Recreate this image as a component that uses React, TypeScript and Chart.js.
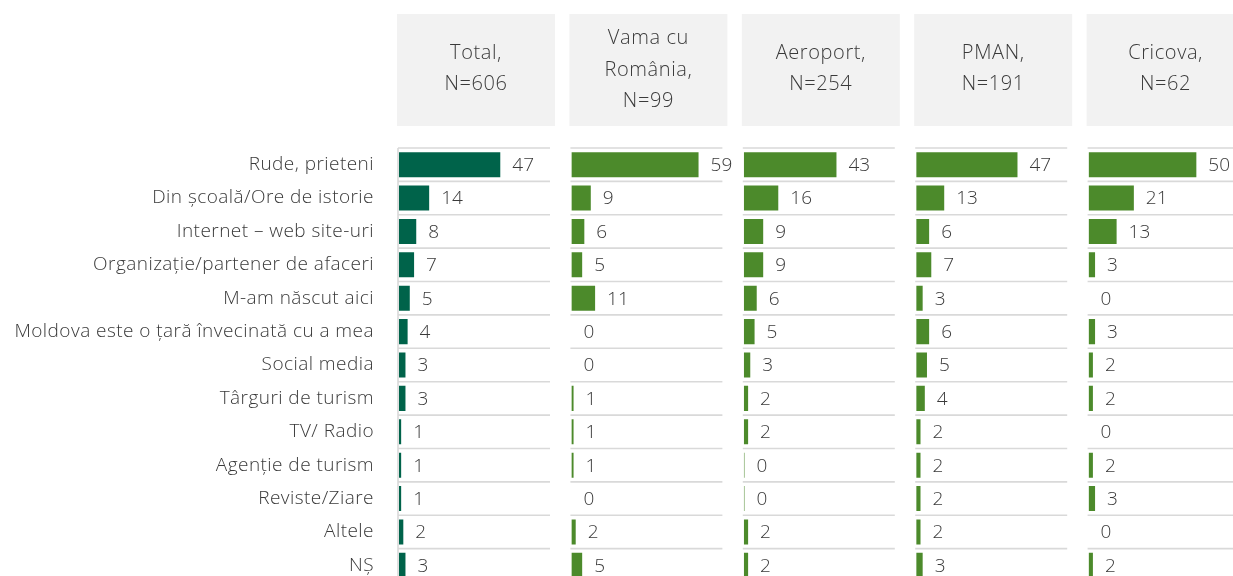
import React, { useEffect, useRef } from "react";
import { Chart, registerables } from "chart.js";

Chart.register(...registerables);

const categories = [
  "Rude, prieteni",
  "Din școală/Ore de istorie",
  "Internet – web site-uri",
  "Organizație/partener de afaceri",
  "M-am născut aici",
  "Moldova este o țară învecinată cu a mea",
  "Social media",
  "Târguri de turism",
  "TV/ Radio",
  "Agenție de turism",
  "Reviste/Ziare",
  "Altele",
  "NȘ",
];

const panelTitles = [
  ["Total,", "N=606"],
  ["Vama cu", "România,", "N=99"],
  ["Aeroport,", "N=254"],
  ["PMAN,", "N=191"],
  ["Cricova,", "N=62"],
];

const totalValues = [47, 14, 8, 7, 5, 4, 3, 3, 1, 1, 1, 2, 3];
const vamaValues = [59, 9, 6, 5, 11, 0, 0, 1, 1, 1, 0, 2, 5];
const aeroportValues = [43, 16, 9, 9, 6, 5, 3, 2, 2, 0.3, 0.3, 2, 2];
const pmanValues = [47, 13, 6, 7, 3, 6, 5, 4, 2, 2, 2, 2, 3];
const cricovaValues = [50, 21, 13, 3, 0, 3, 2, 2, 0, 2, 3, 0, 2];

const seriesValues = [totalValues, vamaValues, aeroportValues, pmanValues, cricovaValues];
const seriesColors = ["#00634A", "#4C8A2B", "#4C8A2B", "#4C8A2B", "#4C8A2B"];

const FONT = "'Open Sans', Lato, sans-serif";
const TEXT = "#3a3a3a";

const panelPlugin = {
  id: "panelDecor",
  beforeDraw(chart: any) {
    chart.ctx.letterSpacing = "0.45px";
  },
  beforeDatasetsDraw(chart: any) {
    const ctx = chart.ctx;
    const area = chart.chartArea;
    const yScale = chart.scales.y;
    const n = categories.length;
    const rowH = (yScale.bottom - yScale.top) / n;
    ctx.save();
    panelTitles.forEach((lines, i) => {
      const sc = chart.scales["x" + i];
      const left = sc.left;
      ctx.fillStyle = "#F2F2F2";
      ctx.fillRect(left - 2, 14, 158, 112);
      ctx.fillStyle = TEXT;
      ctx.font = `300 20px ${FONT}`;
      ctx.letterSpacing = "0.6px";
      ctx.textAlign = "center";
      ctx.textBaseline = "middle";
      const lh = 31.5;
      const cy = lines.length > 2 ? 70 : 69;
      lines.forEach((t, j) => {
        ctx.fillText(t, left + 77, cy + (j - (lines.length - 1) / 2) * lh);
      });
      ctx.strokeStyle = "#D9D9D9";
      ctx.lineWidth = 1.6;
      for (let k = 0; k <= n; k++) {
        const y = yScale.top + k * rowH;
        ctx.beginPath();
        ctx.moveTo(left - 1, y);
        ctx.lineTo(left + 151, y);
        ctx.stroke();
      }
      if (i === 0) {
        ctx.beginPath();
        ctx.moveTo(left - 1, area.top);
        ctx.lineTo(left - 1, area.bottom);
        ctx.stroke();
      }
    });
    ctx.restore();
  },
  afterDatasetsDraw(chart: any) {
    const ctx = chart.ctx;
    ctx.save();
    ctx.fillStyle = TEXT;
    ctx.font = `300 19px ${FONT}`;
    ctx.letterSpacing = "0px";
    ctx.textAlign = "left";
    ctx.textBaseline = "middle";
    chart.data.datasets.forEach((ds: any, i: number) => {
      const meta = chart.getDatasetMeta(i);
      meta.data.forEach((bar: any, j: number) => {
        const v = ds.data[j];
        ctx.fillText(String(Math.round(v)), bar.x + 12, bar.y + 1);
      });
    });
    ctx.restore();
  },
};

export default function App() {
  const ref = useRef<HTMLCanvasElement>(null);
  useEffect(() => {
    const xScales: any = {};
    seriesValues.forEach((_, i) => {
      xScales["x" + i] = {
        type: "linear",
        position: "bottom",
        stack: "panels",
        stackWeight: 1,
        min: 0,
        max: 80,
        display: false,
      };
    });
    const chart = new Chart(ref.current!, {
      type: "bar",
      data: {
        labels: categories,
        datasets: seriesValues.map((vals, i) => ({
          label: panelTitles[i].join(" "),
          data: vals,
          xAxisID: "x" + i,
          yAxisID: "y",
          backgroundColor: seriesColors[i],
          borderWidth: 0,
          grouped: false,
          barPercentage: 0.75,
          categoryPercentage: 1,
        })),
      },
      options: {
        indexAxis: "y",
        animation: false,
        responsive: false,
        devicePixelRatio: 1,
        layout: { padding: { top: 148, left: 0, right: 1, bottom: 18 } },
        plugins: { legend: { display: false }, tooltip: { enabled: false }, title: { display: false } },
        scales: {
          ...xScales,
          y: {
            type: "category",
            position: "left",
            grid: { display: false, drawTicks: false },
            border: { display: false },
            ticks: {
              color: TEXT,
              font: { family: FONT, size: 19, weight: "300" },
              padding: 25,
              labelOffset: 0,
              autoSkip: false,
            },
            afterFit: (scale: any) => {
              scale.width = 399;
              scale.paddingTop = 0;
              scale.paddingBottom = 0;
            },
          },
        },
      },
      plugins: [panelPlugin],
    } as any);
    return () => chart.destroy();
  }, []);
  return (
    <div style={{ position: "fixed", left: 0, top: 0, width: 1233, height: 576, overflow: "hidden", background: "#fff" }}>
      <canvas ref={ref} width={1262} height={600} style={{ display: "block", width: 1262, height: 600 }} />
    </div>
  );
}
